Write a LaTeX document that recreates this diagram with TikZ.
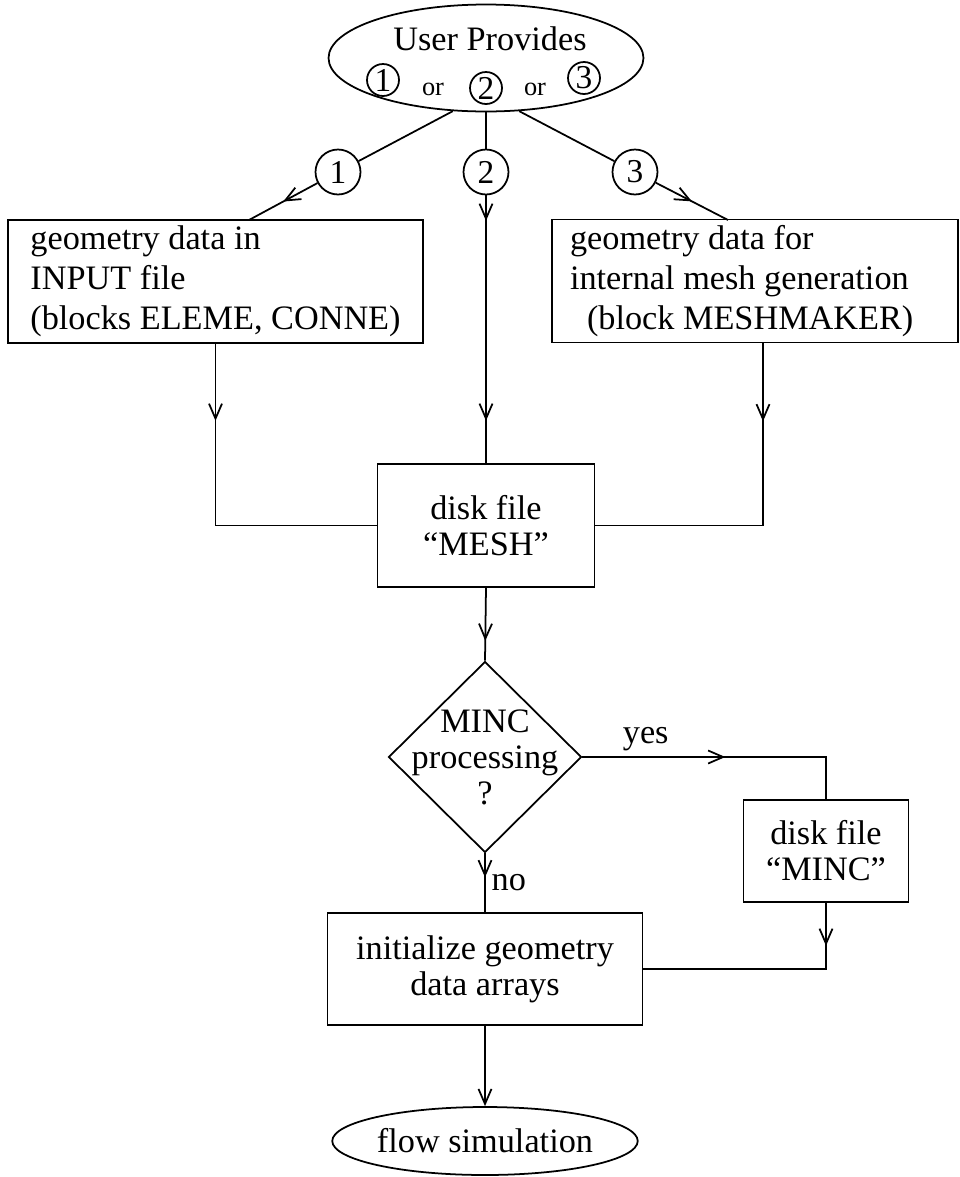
\documentclass[tikz,border=0pt]{standalone}
\usepackage{fontspec}
\setmainfont{Liberation Serif}
\usetikzlibrary{shapes.geometric,arrows.meta,decorations.markings}

\begin{document}
\begin{tikzpicture}[x=0.02cm,y=-0.02cm,line width=1pt,
    >={Straight Barb[length=3mm,width=2.6mm]},
    every node/.style={font=\fontsize{19.5}{20.5}\selectfont},
    box/.style={draw,rectangle,inner sep=0pt},
    topbox/.style={box,minimum height=2.46cm,align=flush left,font=\fontsize{19.5}{22.8}\selectfont},
    num/.style={draw,circle,inner sep=0pt,minimum size=0.9cm,font=\fontsize{19}{19}\selectfont},
    smallnum/.style={draw,circle,inner sep=0pt,minimum size=0.64cm,font=\fontsize{19}{19}\selectfont},
    midarrow/.style={postaction={decorate,decoration={markings,mark=at position #1 with {\arrow{>}}}}}]
    \useasboundingbox (0,0) rectangle (960,1177);
    \node[ellipse,draw,minimum width=6.3cm,minimum height=2.14cm,inner sep=0pt] (user) at (486,58) {};
    \node[anchor=base] (usertxt) at (490,50) {User Provides};
    \node[smallnum] (u1) at (383,80) {1};
    \node[anchor=base,font=\fontsize{15}{15}\selectfont] (or1) at (433,95) {or};
    \node[smallnum] (u2) at (486,88) {2};
    \node[anchor=base,font=\fontsize{15}{15}\selectfont] (or2) at (535,95) {or};
    \node[smallnum] (u3) at (584,78) {3};
    \node[num] (c1) at (338,172) {1};
    \node[num] (c2) at (486,172) {2};
    \node[num] (c3) at (635,172) {3};
    \node[topbox,minimum width=8.3cm] (lbox) at (215.5,281.5)
        {geometry data in\\INPUT file\\(blocks ELEME, CONNE)};
    \node[topbox,minimum width=8.12cm,text width=7.4cm] (rbox) at (755,281)
        {geometry data for\\internal mesh generation\\\hspace*{0.34cm}(block MESHMAKER)};
    \coordinate (lend) at (249,220);
    \coordinate (rend) at (728,220);
    \node[box,minimum width=4.34cm,minimum height=2.46cm,align=center] (mesh) at (486,525.5)
        {disk file\\“MESH”};
    \node[diamond,draw,inner sep=0pt,minimum width=3.86cm,minimum height=3.82cm,
        label={[align=center,font=\fontsize{19.5}{20.5}\selectfont]center:MINC\\processing\\?}] (dia) at (485,757) {};
    \node[box,minimum width=3.3cm,minimum height=2.04cm,align=center] (minc) at (826,851)
        {disk file\\“MINC”};
    \node[box,minimum width=6.3cm,minimum height=2.24cm,align=center] (init) at (485,969)
        {initialize geometry\\data arrays};
    \node[ellipse,draw,minimum width=6.08cm,minimum height=1.36cm,inner sep=0pt] (flow) at (485,1141)
        {flow simulation};
    \draw (user.-122) -- (c1);
    \draw (user.south) -- (c2);
    \draw (user.-58) -- (c3);
    \draw[midarrow=0.5] (c1) -- (lend);
    \draw[midarrow=0.5] (c3) -- (rend);
    \draw[midarrow=0.51cm,midarrow=4.51cm] (c2) -- (c2 |- mesh.north);
    \draw[midarrow=1.54cm] (lbox.south) |- (mesh.west);
    \draw[midarrow=1.56cm] ([xshift=0.16cm]rbox.south) |- (mesh.east);
    \draw[midarrow=1.06cm] (mesh.south) -- (dia.north);
    \draw[midarrow=2.86cm] (dia.east) -| (minc.north) node[pos=0.13,above,inner sep=3pt] (yes) {yes};
    \draw[midarrow=0.48cm] (dia.south) -- (init.north) node[midway,right] (no) {no};
    \draw[midarrow=0.86cm] (minc.south) |- (init.east);
    \draw[->] (init.south) -- (flow.north);
\end{tikzpicture}
\end{document}
